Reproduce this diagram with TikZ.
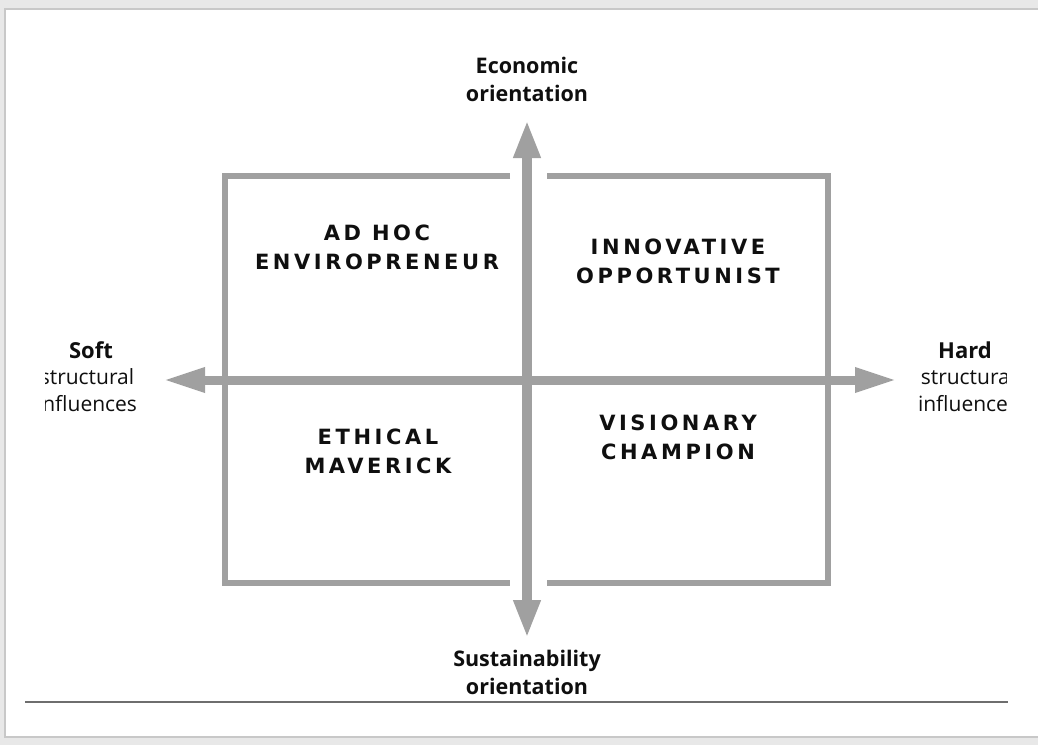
\documentclass[tikz,border=0pt]{standalone}
\usepackage{fontspec}
\setmainfont{Open Sans}
\newfontfamily\quadfont{DejaVu Sans}
\usetikzlibrary{arrows.meta}
\definecolor{axisgray}{RGB}{160,160,160}
\definecolor{bggray}{RGB}{232,232,232}
\definecolor{framegray}{RGB}{200,200,200}
\definecolor{rulegray}{RGB}{110,110,110}
\definecolor{txt}{RGB}{15,15,15}
\tikzset{
  axislabel/.style={font=\fontsize{21.5}{28}\selectfont\bfseries, text=txt, align=center, inner sep=0pt},
  sidehead/.style={font=\fontsize{22}{26}\selectfont\bfseries, text=txt, inner sep=0pt},
  sidetext/.style={font=\fontsize{21}{26.5}\selectfont, text=txt, align=center, inner sep=0pt},
  quadlabel/.style={font=\quadfont\fontsize{21}{29}\selectfont\bfseries\addfontfeature{LetterSpace=17}, text=txt, align=center, inner sep=0pt},
  bracket/.style={draw=axisgray, line width=6pt, miter limit=10},
  axisarrow/.style={draw=axisgray, line width=10pt, {Triangle[length=38pt,width=25pt]}-{Triangle[length=38pt,width=25pt]}},
  axisarrowh/.style={draw=axisgray, line width=9pt, {Triangle[length=42pt,width=23pt]}-{Triangle[length=42pt,width=23pt]}}
}
\begin{document}
\begin{tikzpicture}[x=1pt,y=-1pt]
\useasboundingbox (0,0) rectangle (1038,745);
\fill[bggray] (0,0) rectangle (1038,745);
\filldraw[fill=white, draw=framegray, line width=1.2pt] (5,9) rectangle (1045,737);
% brackets
\draw[bracket] (510,176) -- (225,176) -- (225,583) -- (510,583);
\draw[bracket] (547,176) -- (828,176) -- (828,583) -- (547,583);
% axes
\coordinate (top) at (527,120);
\coordinate (bot) at (527,638);
\coordinate (left) at (163,380);
\coordinate (right) at (897,380);
\draw[axisarrow] (bot) -- (top);
\draw[axisarrowh] (left) -- (right);
% axis labels
\node[axislabel] (econ) at (527,79) {Economic\\orientation};
\node[axislabel] (sust) at (527,672) {Sustainability\\orientation};
% soft
\node[sidehead] (soft) at (91,350) {Soft};
\begin{scope}
\clip (45,360) rectangle (220,420);
\node[sidetext] (softtxt) at (87,390) {structural\\influences};
\end{scope}
% hard
\node[sidehead] (hard) at (965,350) {Hard};
\begin{scope}
\clip (880,360) rectangle (1006,420);
\node[sidetext] (hardtxt) at (968,390) {structural\\influences};
\end{scope}
% quadrants
\node[quadlabel] (adhoc) at (377,247) {AD HOC\\ENVIROPRENEUR};
\node[quadlabel] (innov) at (678,261) {INNOVATIVE\\OPPORTUNIST};
\node[quadlabel] (ethic) at (378,451) {ETHICAL\\MAVERICK};
\node[quadlabel] (vision) at (678,437) {VISIONARY\\CHAMPION};
% bottom rule
\coordinate (r1) at (25,702);
\coordinate (r2) at (1008,702);
\draw[rulegray, line width=2.2pt] (r1) -- (r2);
\end{tikzpicture}
\end{document}
